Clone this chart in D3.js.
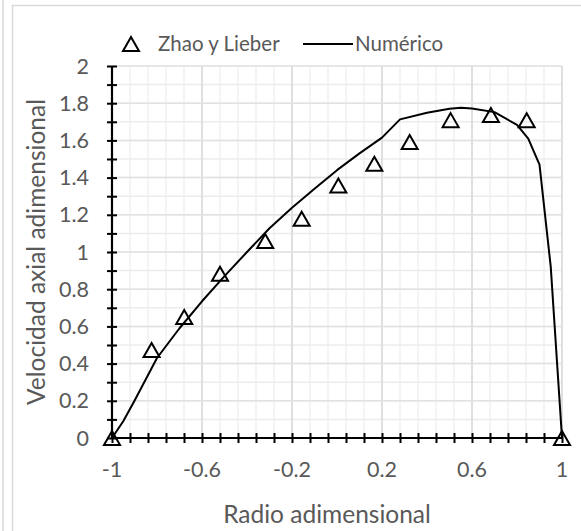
<!DOCTYPE html>
<html>
<head>
<meta charset="utf-8">
<script src="https://cdn.jsdelivr.net/npm/d3@7"></script>
<style>
  body { margin: 0; background: #fff; }
  svg { display: block; font-family: Lato, "Open Sans", sans-serif; }
</style>
</head>
<body>
<div id="chart"></div>
<script>

// Zhao y Lieber (triangles)
var zhaoX = [-1, -0.824, -0.679, -0.52, -0.319, -0.157, 0.006, 0.166, 0.323, 0.505, 0.684, 0.843, 1];
var zhaoY = [0, 0.473, 0.65, 0.883, 1.059, 1.179, 1.357, 1.474, 1.591, 1.709, 1.737, 1.708, 0];

// Numérico (line)
var numX = [-1, -0.95, -0.9, -0.8, -0.7, -0.6, -0.5, -0.4, -0.3, -0.2, -0.1, 0, 0.1, 0.2, 0.28, 0.4, 0.5, 0.55, 0.6, 0.7, 0.8, 0.85, 0.9, 0.95, 1];
var numY = [0, 0.09, 0.2, 0.43, 0.59, 0.735, 0.87, 1.0, 1.128, 1.238, 1.34, 1.44, 1.53, 1.615, 1.713, 1.749, 1.77, 1.775, 1.772, 1.752, 1.683, 1.61, 1.47, 0.92, 0];

var xTickLabels = [-1, -0.6, -0.2, 0.2, 0.6, 1];
var yTickLabels = [0, 0.2, 0.4, 0.6, 0.8, 1, 1.2, 1.4, 1.6, 1.8, 2];

var width = 581, height = 531;
var margin = {left: 112, right: 19, top: 66, bottom: 93};

var svg = d3.select("#chart").append("svg")
    .attr("width", width)
    .attr("height", height);

// chart frame
svg.append("line")
    .attr("x1", 3).attr("x2", 3).attr("y1", 0).attr("y2", height)
    .style("stroke", "#d9d9d9").style("stroke-width", 1.5);
svg.append("rect")
    .attr("x", 12.5).attr("y", 5.5)
    .attr("width", width).attr("height", height)
    .style("fill", "none").style("stroke", "#d9d9d9").style("stroke-width", 1.5);

var x = d3.scaleLinear().domain([-1, 1]).range([margin.left, width - margin.right]);
var y = d3.scaleLinear().domain([0, 2]).range([height - margin.bottom, margin.top]);

var xMinor = d3.range(0, 26).map(function(i) { return +(-1 + i * 0.08).toFixed(2); });
var yMinor = d3.range(0, 21).map(function(i) { return +(i * 0.1).toFixed(1); });
var xMajor = d3.range(0, 6).map(function(i) { return +(-1 + i * 0.4).toFixed(1); });
var yMajor = yTickLabels;

var grid = svg.append("g");

grid.selectAll(".vminor").data(xMinor)
  .enter().append("line")
    .attr("x1", function(d) { return x(d); })
    .attr("x2", function(d) { return x(d); })
    .attr("y1", y(0)).attr("y2", y(2))
    .style("stroke", "#f0f0f0").style("stroke-width", 1.5);

grid.selectAll(".hminor").data(yMinor)
  .enter().append("line")
    .attr("y1", function(d) { return y(d); })
    .attr("y2", function(d) { return y(d); })
    .attr("x1", x(-1)).attr("x2", x(1))
    .style("stroke", "#ececec").style("stroke-width", 1.5);

grid.selectAll(".vmajor").data(xMajor)
  .enter().append("line")
    .attr("x1", function(d) { return x(d); })
    .attr("x2", function(d) { return x(d); })
    .attr("y1", y(0)).attr("y2", y(2))
    .style("stroke", "#d9d9d9").style("stroke-width", 1.5);

grid.selectAll(".hmajor").data(yMajor)
  .enter().append("line")
    .attr("y1", function(d) { return y(d); })
    .attr("y2", function(d) { return y(d); })
    .attr("x1", x(-1)).attr("x2", x(1))
    .style("stroke", "#e2e2e2").style("stroke-width", 1.5);

// axes (cross ticks)
var xAxis = svg.append("g")
    .attr("transform", "translate(0," + y(0) + ")")
    .call(d3.axisBottom(x).tickValues(xMinor).tickSize(5).tickFormat(""));
var yAxis = svg.append("g")
    .attr("transform", "translate(" + x(-1) + ",0)")
    .call(d3.axisLeft(y).tickValues(yMinor).tickSize(5).tickFormat(""));

xAxis.select(".domain").remove();
yAxis.select(".domain").remove();
xAxis.selectAll(".tick line").attr("y1", -5).attr("y2", 5).style("stroke", "#000").style("stroke-width", 2);
yAxis.selectAll(".tick line").attr("x1", -5).attr("x2", 5).style("stroke", "#000").style("stroke-width", 2);

svg.append("line")
    .attr("x1", x(-1)).attr("x2", x(1)).attr("y1", y(0)).attr("y2", y(0))
    .style("stroke", "#000").style("stroke-width", 2.2);
svg.append("line")
    .attr("x1", x(-1)).attr("x2", x(-1)).attr("y1", y(0)).attr("y2", y(2))
    .style("stroke", "#000").style("stroke-width", 2.2);

// tick labels
svg.selectAll(".xlab").data(xTickLabels)
  .enter().append("text")
    .attr("x", function(d) { return x(d); })
    .attr("y", y(0) + 39)
    .attr("text-anchor", "middle")
    .style("font-size", "21.5px")
    .style("fill", "#595959")
    .text(function(d) { return d; });

svg.selectAll(".ylab").data(yTickLabels)
  .enter().append("text")
    .attr("x", x(-1) - 23)
    .attr("y", function(d) { return y(d); })
    .attr("dy", "0.35em")
    .attr("text-anchor", "end")
    .style("font-size", "21.5px")
    .style("fill", "#595959")
    .text(function(d) { return d; });

// axis titles
svg.append("text")
    .attr("x", 327).attr("y", 523)
    .attr("text-anchor", "middle")
    .style("font-size", "24.5px")
    .style("fill", "#595959")
    .text("Radio adimensional");

svg.append("text")
    .attr("transform", "translate(45," + 252 + ") rotate(-90)")
    .attr("text-anchor", "middle")
    .style("font-size", "24.5px")
    .style("fill", "#595959")
    .text("Velocidad axial adimensional");

// triangle marker centred on its bounding box
function tri(cx, cy) {
  var w = 16, h = 14;
  return "M" + cx + "," + (cy - h / 2) +
         "L" + (cx + w / 2) + "," + (cy + h / 2) +
         "L" + (cx - w / 2) + "," + (cy + h / 2) + "Z";
}

// numeric line
var line = d3.line()
    .x(function(d, i) { return x(numX[i]); })
    .y(function(d, i) { return y(numY[i]); });

svg.append("path")
    .datum(numX)
    .attr("d", line)
    .style("fill", "none")
    .style("stroke", "#000")
    .style("stroke-width", 2)
    .style("stroke-linejoin", "round");

// points
svg.selectAll(".pt").data(zhaoX)
  .enter().append("path")
    .attr("class", "pt")
    .attr("d", function(d, i) { return tri(x(d), y(zhaoY[i])); })
    .style("fill", "none")
    .style("stroke", "#000")
    .style("stroke-width", 2)
    .style("stroke-linejoin", "miter");

// legend
var legend = svg.append("g");
legend.append("path")
    .attr("d", tri(131, 44))
    .style("fill", "none").style("stroke", "#000").style("stroke-width", 2);
legend.append("text")
    .attr("x", 158).attr("y", 44).attr("dy", "0.35em")
    .style("font-size", "20.5px").style("fill", "#595959")
    .text("Zhao y Lieber");
legend.append("line")
    .attr("x1", 303).attr("x2", 353).attr("y1", 44).attr("y2", 44)
    .style("stroke", "#000").style("stroke-width", 2);
legend.append("text")
    .attr("x", 355).attr("y", 44).attr("dy", "0.35em")
    .style("font-size", "20.5px").style("fill", "#595959")
    .text("Numérico");

</script>
</body>
</html>
